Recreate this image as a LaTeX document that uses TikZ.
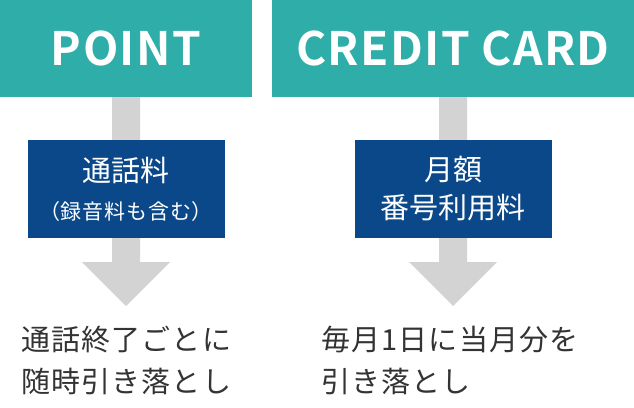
\documentclass[tikz,border=0pt]{standalone}
\usepackage{fontspec}
\setmainfont{Noto Sans CJK JP}
\newfontfamily\jpbold[LetterSpace=3]{Noto Sans CJK JP Bold}
\newfontfamily\jpsp[LetterSpace=4]{Noto Sans CJK JP}
\definecolor{teal1}{HTML}{2EADA9}
\definecolor{navy1}{HTML}{0B4889}
\definecolor{gray1}{HTML}{D3D3D3}
\definecolor{txt}{HTML}{333333}
\tikzset{
 head/.style={fill=teal1,draw=none,text=white,font=\jpbold\fontsize{46}{50}\selectfont,inner sep=0},
 blue/.style={fill=navy1,draw=none,text=white,inner sep=0},
 arr/.style={fill=gray1,draw=none},
 note/.style={text=txt,anchor=west,font=\jpsp\fontsize{29}{32}\selectfont,inner sep=0},
}
\begin{document}
\begin{tikzpicture}[x=1pt,y=-1pt]
\useasboundingbox (0,0) rectangle (634,407);
\fill[arr] (112,97) -- (140,97) -- (140,262) -- (170,262) -- (126,306) -- (82,262) -- (112,262) -- cycle;
\fill[arr] (439,97) -- (467,97) -- (467,262) -- (497,262) -- (453,306) -- (409,262) -- (439,262) -- cycle;
\node[head,minimum width=252pt,minimum height=97pt] (p) at (126,48.5) {POINT};
\node[head,minimum width=362pt,minimum height=97pt] (c) at (453,48.5) {CREDIT CARD};
\node[blue,minimum width=197pt,minimum height=98pt] (b1) at (126.5,189) {};
\node[text=white,font=\fontsize{29}{32}\selectfont] (t1) at (126,170) {通話料};
\node[text=white,font=\jpsp\fontsize{21}{24}\selectfont] (t2) at (126,212) {（録音料も含む）};
\node[blue,minimum width=197pt,minimum height=98pt] (b2) at (453.5,189) {};
\node[text=white,font=\fontsize{29}{32}\selectfont] (t3) at (453,170) {月額};
\node[text=white,font=\fontsize{29}{32}\selectfont] (t4) at (453,208) {番号利用料};
\node[note] (n1) at (21,340) {通話終了ごとに};
\node[note] (n2) at (21,381) {随時引き落とし};
\node[note] (n3) at (321,340) {毎月1日に当月分を};
\node[note] (n4) at (321,381) {引き落とし};
\end{tikzpicture}
\end{document}
